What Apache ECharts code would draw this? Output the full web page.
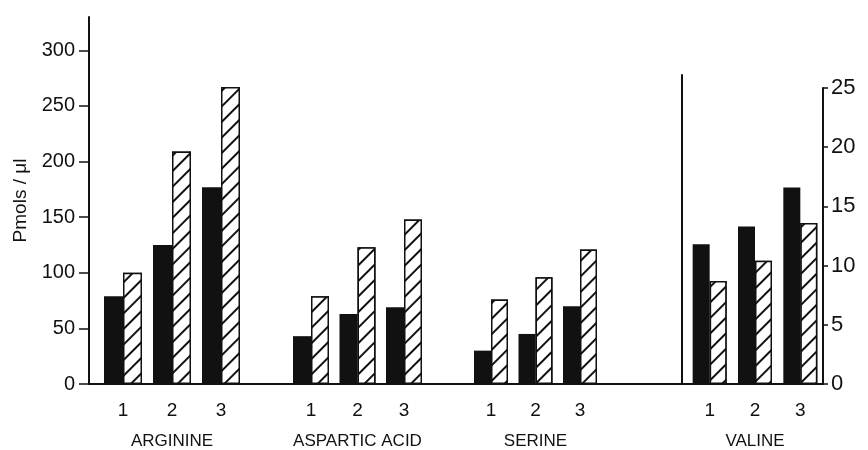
<!DOCTYPE html>
<html>
<head>
<meta charset="utf-8">
<script src="https://cdn.jsdelivr.net/npm/echarts@6/dist/echarts.min.js"></script>
<style>
  html, body { margin: 0; padding: 0; background: #fff; }
  #chart { width: 868px; height: 450px; }
</style>
</head>
<body>
<div id="chart"></div>
<script>
// doses shown under each pair of bars
const doses = ["1", "2", "3"];
const acids = ["ARGININE", "ASPARTIC ACID", "SERINE", "VALINE"];

// solid (black) and hatched bars, Pmols/ul (valine read on right axis)
const arginineSolid = [79, 125, 177];
const arginineHatched = [100, 209, 267];
const asparticSolid = [43, 63, 69];
const asparticHatched = [79, 123, 148];
const serineSolid = [30, 45, 70];
const serineHatched = [76, 96, 121];
const valineSolid = [11.8, 13.3, 16.6];
const valineHatched = [8.7, 10.4, 13.6];

const leftTicks = [0, 50, 100, 150, 200, 250, 300];

const solidByAcid = [arginineSolid, asparticSolid, serineSolid, valineSolid];
const hatchedByAcid = [arginineHatched, asparticHatched, serineHatched, valineHatched];

const ink = "#111";
const font = "Liberation Sans";

const chart = echarts.init(document.getElementById("chart"));

// one grid per amino acid so the groups sit where they were drawn
const groupGrids = [
  { left: 98.5, width: 147, top: 17, bottom: 66 },
  { left: 287.75, width: 139.5, top: 17, bottom: 66 },
  { left: 468.75, width: 133.5, top: 17, bottom: 66 },
  { left: 687, width: 136, top: 88, bottom: 66 },
];
const barWidths = [19, 18, 17, 17];

const grids = [
  { left: 89, right: 45, top: 17, bottom: 66 }, // frame: left axis + baseline
  ...groupGrids,
  { left: 682, width: 1, top: 75, bottom: 66 }, // separator before valine
].map(g => ({ ...g, outerBoundsMode: "none", containLabel: false }));

const xAxes = [
  {
    gridIndex: 0,
    type: "value",
    min: 0,
    max: 1,
    axisLine: { show: true, onZero: false, lineStyle: { color: ink, width: 2 } },
    axisTick: { show: false },
    axisLabel: { show: false },
    splitLine: { show: false },
  },
];
const yAxes = [
  {
    gridIndex: 0,
    type: "value",
    min: 0,
    max: 330,
    interval: 50,
    name: "Pmols / μl",
    nameLocation: "middle",
    nameGap: 56,
    nameTextStyle: { color: ink, fontSize: 19, fontFamily: font },
    axisLine: { show: true, lineStyle: { color: ink, width: 2 } },
    axisTick: { show: true, length: 10, customValues: leftTicks, lineStyle: { color: ink, width: 1.5 } },
    axisLabel: { customValues: leftTicks, color: ink, fontSize: 20, fontFamily: font, margin: 14 },
    splitLine: { show: false },
  },
];

acids.forEach((acid, i) => {
  const isValine = i === 3;
  xAxes.push({
    gridIndex: i + 1,
    type: "category",
    data: doses,
    name: acid,
    nameLocation: "middle",
    nameGap: 49,
    nameTextStyle: { color: ink, fontSize: 17, fontFamily: font },
    axisLine: { show: false },
    axisTick: { show: false },
    axisLabel: { color: ink, fontSize: 19, fontFamily: font, margin: 17 },
  });
  yAxes.push(
    isValine
      ? {
          gridIndex: i + 1,
          type: "value",
          position: "right",
          min: 0,
          max: 25,
          interval: 5,
          axisLine: { show: true, lineStyle: { color: ink, width: 2 } },
          axisTick: { show: true, length: 5, lineStyle: { color: ink, width: 1.5 } },
          axisLabel: { color: ink, fontSize: 22, fontFamily: font, margin: 8 },
          splitLine: { show: false },
        }
      : {
          gridIndex: i + 1,
          type: "value",
          min: 0,
          max: 330,
          show: false,
          splitLine: { show: false },
        }
  );
});

xAxes.push({ gridIndex: 5, type: "value", show: false });
yAxes.push({
  gridIndex: 5,
  type: "value",
  min: 0,
  max: 1,
  axisLine: { show: true, lineStyle: { color: ink, width: 2 } },
  axisTick: { show: false },
  axisLabel: { show: false },
  splitLine: { show: false },
});

const series = [];
acids.forEach((acid, i) => {
  series.push({
    name: acid + " solid",
    type: "bar",
    xAxisIndex: i + 1,
    yAxisIndex: i + 1,
    barWidth: barWidths[i],
    barGap: "0%",
    itemStyle: { color: ink },
    data: solidByAcid[i],
  });
  series.push({
    name: acid + " hatched",
    type: "bar",
    xAxisIndex: i + 1,
    yAxisIndex: i + 1,
    barWidth: barWidths[i],
    barGap: "0%",
    itemStyle: {
      color: "#fff",
      borderColor: ink,
      borderWidth: 1.5,
      decal: {
        symbol: "rect",
        symbolSize: 1,
        color: ink,
        backgroundColor: "#fff",
        dashArrayX: [1, 0],
        dashArrayY: [1.2, 9],
        rotation: -Math.PI / 4,
      },
    },
    data: hatchedByAcid[i],
  });
});

chart.setOption({
  backgroundColor: "#fff",
  animation: false,
  grid: grids,
  xAxis: xAxes,
  yAxis: yAxes,
  series: series,
});
</script>
</body>
</html>
